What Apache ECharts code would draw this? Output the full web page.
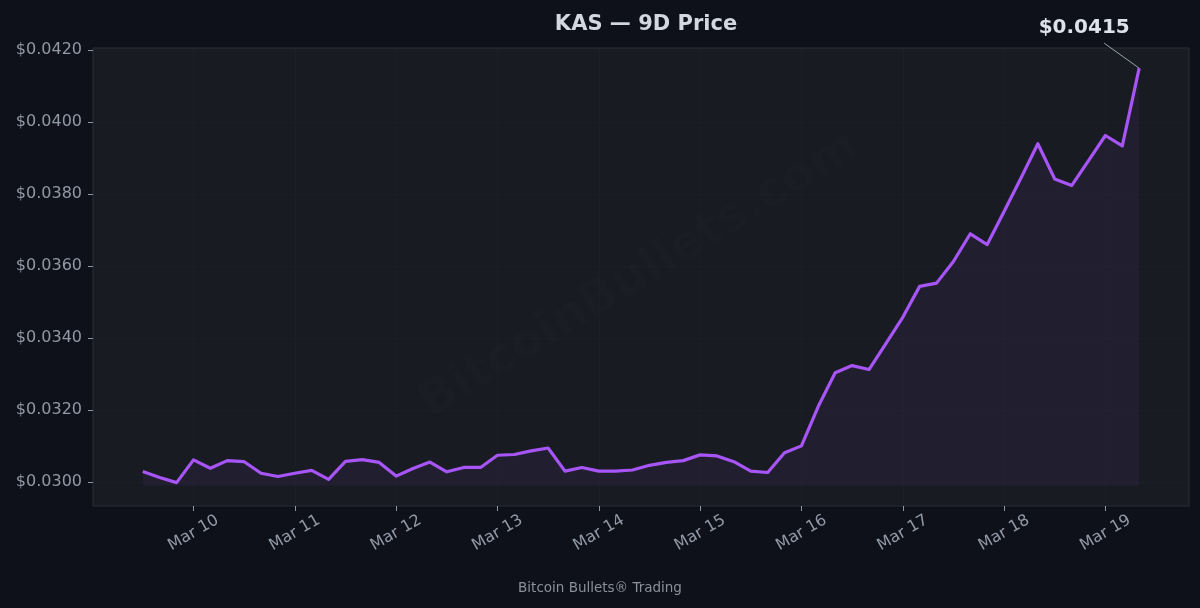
<!DOCTYPE html>
<html>
<head>
<meta charset="utf-8">
<title>KAS — 9D Price</title>
<script src="https://cdn.jsdelivr.net/npm/echarts@6/dist/echarts.min.js"></script>
<style>
  html, body { margin: 0; padding: 0; background: #0e1119; }
  #chart { width: 1200px; height: 608px; }
</style>
</head>
<body>
<div id="chart"></div>
<script>
// KAS price, one reading every 4 hours, starting Mar 9 12:00
var startHour = 12;      // hours after Mar 9 00:00
var stepHours = 4;
var prices = [
  0.03030, 0.03013, 0.02999, 0.03062, 0.03039, 0.03060, 0.03057, 0.03025,
  0.03016, 0.03025, 0.03033, 0.03008, 0.03058, 0.03063, 0.03055, 0.03017,
  0.03038, 0.03056, 0.03029, 0.03041, 0.03041, 0.03075, 0.03077, 0.03087,
  0.03095, 0.03031, 0.03041, 0.03031, 0.03031, 0.03034, 0.03047, 0.03055,
  0.03060, 0.03076, 0.03073, 0.03057, 0.03031, 0.03027, 0.03082, 0.03101,
  0.03211, 0.03304, 0.03324, 0.03313, 0.03385, 0.03458, 0.03544, 0.03553,
  0.03613, 0.03690, 0.03660, 0.03752, 0.03845, 0.03940, 0.03842, 0.03824,
  0.03893, 0.03963, 0.03934, 0.04150
];
var dayTicks = [24, 48, 72, 96, 120, 144, 168, 192, 216, 240];   // Mar 10 .. Mar 19
var dayLabels = ['Mar 10','Mar 11','Mar 12','Mar 13','Mar 14','Mar 15','Mar 16','Mar 17','Mar 18','Mar 19'];
var priceTicks = [0.030, 0.032, 0.034, 0.036, 0.038, 0.040, 0.042];
var fillBase = 0.0299;
var lastLabel = '$0.0415';

var points = prices.map(function (p, i) { return [startHour + i * stepHours, p]; });
var last = points[points.length - 1];

var chart = echarts.init(document.getElementById('chart'));
var font = 'DejaVu Sans';
var option = {
  backgroundColor: '#0e1119',
  animation: false,
  title: {
    text: 'KAS — 9D Price',
    left: 641, top: 9, textAlign: 'center',
    textStyle: { color: '#d2d7e0', fontSize: 21, fontWeight: 'bold', fontFamily: font }
  },
  grid: {
    left: 93, right: 11, top: 48, bottom: 102,
    show: true, backgroundColor: '#181b22', borderColor: '#2b2f39', borderWidth: 1
  },
  xAxis: {
    type: 'value', min: 0.2, max: 259.8,
    axisLine: { show: false },
    axisTick: { show: true, length: 5, customValues: dayTicks, lineStyle: { color: '#8e95a3' } },
    axisLabel: {
      customValues: dayTicks, rotate: 30, margin: 27,
      align: 'center', verticalAlign: 'middle',
      color: '#9299a6', fontSize: 16, fontFamily: font,
      formatter: function (v) { return dayLabels[dayTicks.indexOf(Math.round(v))] || ''; }
    },
    splitLine: { show: true, lineStyle: { color: 'rgba(255,255,255,0.014)' } }
  },
  yAxis: {
    type: 'value', min: 0.02934, max: 0.04206, scale: true,
    axisLine: { show: false },
    axisTick: { show: true, length: 5, customValues: priceTicks, lineStyle: { color: '#8e95a3' } },
    axisLabel: {
      customValues: priceTicks, margin: 11,
      color: '#9299a6', fontSize: 16, fontFamily: font,
      formatter: function (v) { return '$' + v.toFixed(4); }
    },
    splitLine: { show: true, lineStyle: { color: 'rgba(255,255,255,0.014)' } }
  },
  series: [{
    type: 'line',
    data: points,
    symbol: 'none',
    clip: false,
    lineStyle: { color: '#a855f7', width: 3.2, join: 'round' },
    areaStyle: { color: 'rgba(168,85,247,0.085)', origin: fillBase }
  }]
};
chart.setOption(option);

// annotation for the last price, watermark, footer
var p = chart.convertToPixel({ gridIndex: 0 }, last);
chart.setOption({
  graphic: [
    {
      type: 'text', x: 640, y: 275, rotation: 0.55, silent: true, z: 0,
      style: {
        text: 'BitcoinBullets.com', fill: 'rgba(255,255,255,0.012)',
        font: 'bold 48px "DejaVu Sans"', align: 'center', verticalAlign: 'middle'
      }
    },
    {
      type: 'line', silent: true,
      shape: { x1: p[0] - 35, y1: p[1] - 25, x2: p[0], y2: p[1] },
      style: { stroke: '#9ca3af', lineWidth: 1 }
    },
    {
      type: 'text', x: p[0] - 55, y: p[1] - 40, silent: true,
      style: {
        text: lastLabel, fill: '#dde1ea', font: 'bold 20px "DejaVu Sans"',
        align: 'center', verticalAlign: 'middle'
      }
    },
    {
      type: 'text', x: 600, y: 588, silent: true,
      style: {
        text: 'Bitcoin Bullets® Trading', fill: '#8b909b', font: '13.5px "DejaVu Sans"',
        align: 'center', verticalAlign: 'middle'
      }
    }
  ]
});
</script>
</body>
</html>
